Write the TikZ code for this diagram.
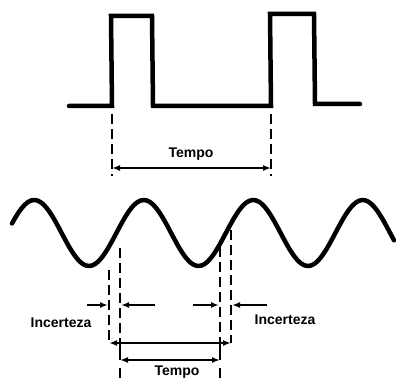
\documentclass[tikz,border=0pt]{standalone}
\usepackage{fontspec}
\setmainfont{Liberation Sans}
\usetikzlibrary{arrows.meta}

\begin{document}
\begin{tikzpicture}[x=1pt, y=-1pt, >={Latex[length=8pt,width=6pt]},
    font=\fontsize{14}{16}\selectfont\bfseries,
    wave/.style={line width=4.5pt, line join=round, line cap=round},
    guide/.style={line width=2.5pt, dash pattern=on 10pt off 5pt},
    dim/.style={line width=2.2pt, <->},
    ptr/.style={line width=2.2pt, ->}]
  \useasboundingbox (0,0) rectangle (396,382);
  % pulses
  \draw[wave, line join=miter] (69,106) -- (112,106) -- (111,16) -- (152,16) -- (153,106)
    -- (271,106) -- (270,14) -- (314,14) -- (315,104) -- (360,104);
  \coordinate (pa) at (112,114); \coordinate (pb) at (271,114);
  \coordinate (pa') at (112,176); \coordinate (pb') at (271,176);
  \draw[guide] (pa) -- (pa');
  \draw[guide] (pb) -- (pb');
  \coordinate (ta) at (112,168); \coordinate (tb) at (271,168);
  \draw[dim] (ta) -- (tb);
  \node (tempo1) at (191,154) {Tempo};
  % sine
  \draw[wave] plot[domain=12:394, samples=120, smooth] (\x, {233+33*cos(3.2877*(\x-89))});
  % guides under the sine
  \coordinate (u1) at (109,270); \coordinate (u1') at (109,343);
  \coordinate (u2) at (120,248); \coordinate (u2') at (120,343);
  \coordinate (u3) at (220,247); \coordinate (u3') at (220,343);
  \coordinate (u4) at (231,230); \coordinate (u4') at (231,343);
  \foreach \g in {u1,u2,u3,u4} \draw[guide] (\g) -- (\g');
  \coordinate (v2) at (120,360); \coordinate (v3) at (220,360);
  \draw[line width=2.2pt] (u2') -- (v2) (u3') -- (v3);
  \draw[guide] (120,368) -- (120,382) (220,368) -- (220,382);
  \draw[dim] (u1') -- (u4');
  \draw[dim] (v2) -- (v3);
  % incerteza
  \coordinate (i1) at (87,305); \coordinate (i1') at (108,305);
  \coordinate (i2) at (155,305); \coordinate (i2') at (121,305);
  \coordinate (i3) at (193,305); \coordinate (i3') at (219,305);
  \coordinate (i4) at (267,305); \coordinate (i4') at (232,305);
  \foreach \a in {i1,i2,i3,i4} \draw[ptr] (\a) -- (\a');
  \node (inc1) at (61,323) {Incerteza};
  \node (inc2) at (285,320) {Incerteza};
  \node (tempo2) at (177,372) {Tempo};
\end{tikzpicture}
\end{document}
